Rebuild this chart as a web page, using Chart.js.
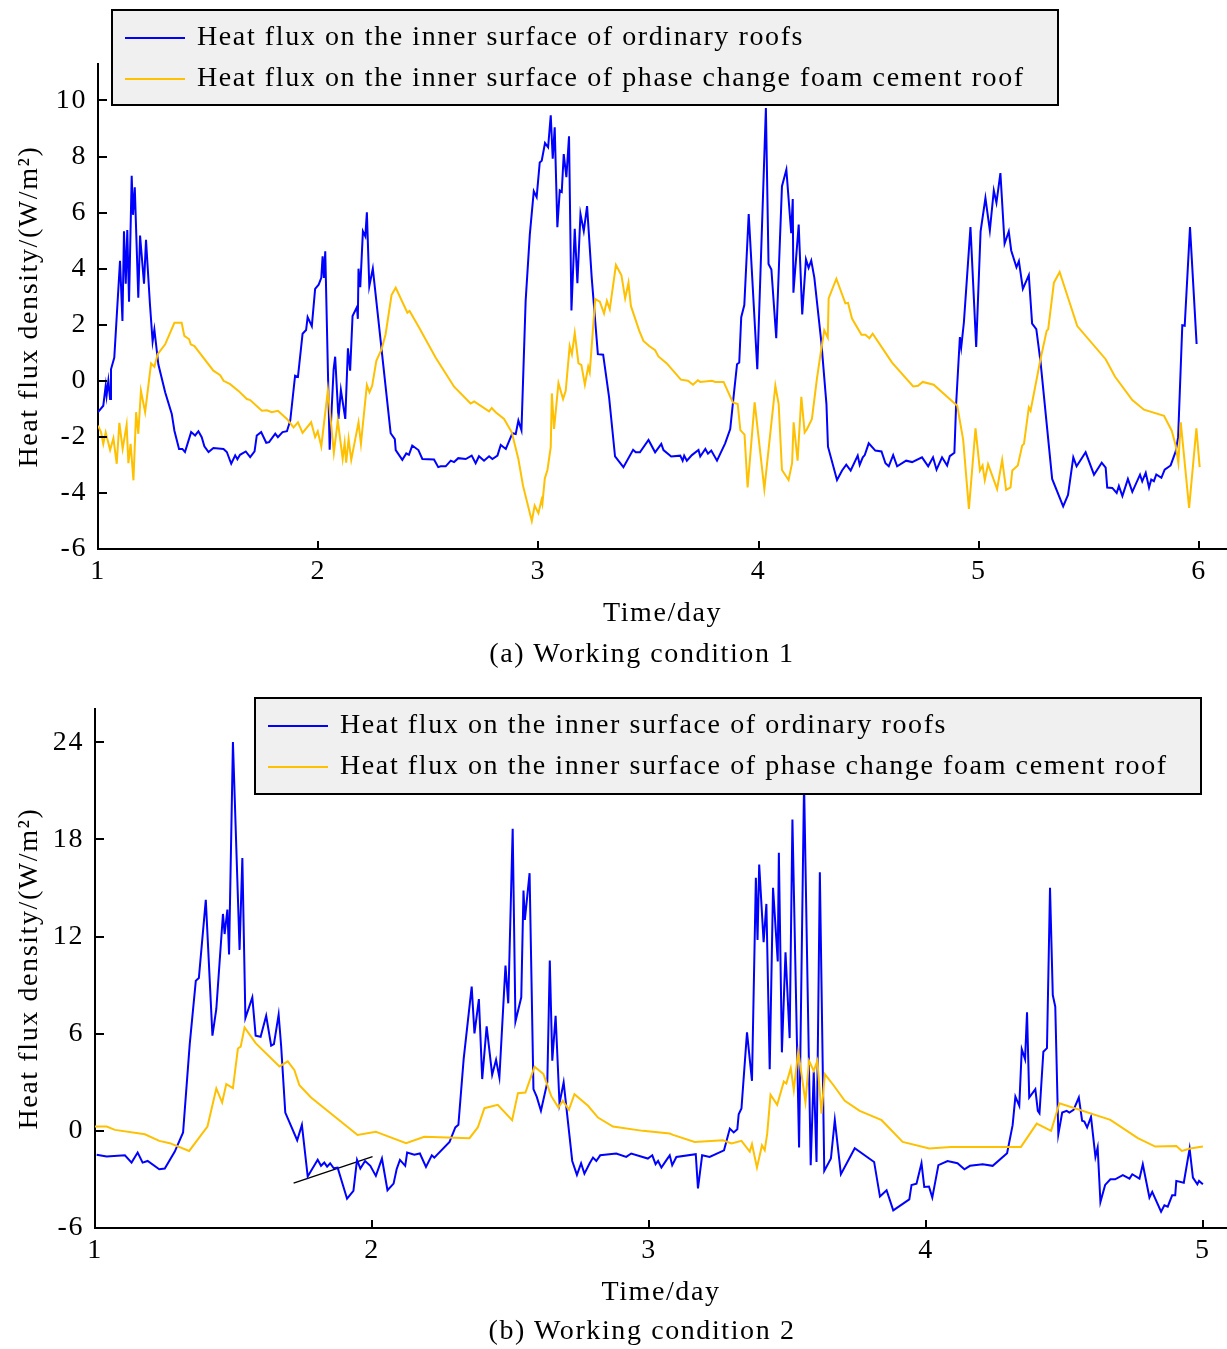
<!DOCTYPE html>
<html>
<head>
<meta charset="utf-8">
<script src="https://cdn.jsdelivr.net/npm/chart.js@4.4.1/dist/chart.umd.min.js"></script>
<style>
  body { margin: 0; background: #fff; width: 1227px; height: 1349px; position: relative; overflow: hidden; font-family: 'Liberation Serif', 'Times New Roman', serif; }
  canvas { position: absolute; left: 0; }
  .cap { position: absolute; left: 0; width: 1284px; text-align: center; font-size: 28px; line-height: 32px; letter-spacing: 1.6px; color: #000; }
</style>
</head>
<body>
<canvas id="chartA" width="1227" height="640" style="top:0"></canvas>
<div class="cap" style="top:637px">(a) Working condition 1</div>
<canvas id="chartB" width="1227" height="640" style="top:680px"></canvas>
<div class="cap" style="top:1314px">(b) Working condition 2</div>
<script>
// --- shared text ---
const seriesNames = ['Heat flux on the inner surface of ordinary roofs',
                     'Heat flux on the inner surface of phase change foam cement roof'];
const xTitle = 'Time/day';
const yTitle = 'Heat flux density/(W/m\u00B2)';

// --- (a) working condition 1 ---
const aXTicks = [1, 2, 3, 4, 5, 6];
const aYTicks = [-6, -4, -2, 0, 2, 4, 6, 8, 10];
const aOrdDay = [1.000,1.024,1.035,1.039,1.047,1.055,1.059,1.074,1.100,1.111,1.118,1.126,1.133,1.141,1.153,1.159,1.167,1.183,1.191,1.209,1.218,1.236,1.248,1.256,1.274,1.305,1.335,1.347,1.368,1.383,1.395,1.423,1.441,1.456,1.471,1.483,1.502,1.524,1.570,1.585,1.605,1.623,1.633,1.645,1.671,1.691,1.711,1.721,1.741,1.764,1.777,1.805,1.817,1.838,1.858,1.873,1.895,1.908,1.929,1.945,1.952,1.971,1.986,2.002,2.014,2.020,2.026,2.032,2.052,2.070,2.077,2.092,2.103,2.123,2.135,2.145,2.156,2.176,2.180,2.183,2.191,2.203,2.214,2.221,2.232,2.248,
  2.329,2.348,2.352,2.382,2.400,2.412,2.427,2.455,2.473,2.526,2.545,2.556,2.579,2.602,2.617,2.636,2.670,2.697,2.715,2.730,2.753,2.776,2.791,2.814,2.829,2.852,2.882,2.897,2.909,2.923,2.942,2.961,2.979,2.992,3.006,3.015,3.030,3.044,3.056,3.065,3.074,3.086,3.097,3.106,3.115,3.127,3.139,3.150,3.165,3.177,3.191,3.206,3.221,3.242,3.270,3.294,3.321,3.348,3.386,3.430,3.442,3.461,3.500,
  3.530,3.558,3.568,3.603,3.644,3.655,3.662,3.674,3.697,3.727,3.735,3.758,3.770,3.785,3.811,3.848,3.871,3.886,3.902,3.912,3.921,3.935,3.955,3.994,4.033,4.045,4.058,4.080,4.106,4.126,4.148,4.155,4.158,4.182,4.198,4.215,4.227,4.239,4.253,4.285,4.308,4.315,4.356,4.379,4.398,4.418,4.450,4.459,4.473,4.482,4.500,4.530,4.558,4.576,4.591,4.611,4.629,4.670,4.697,4.742,4.770,
  4.792,4.808,4.833,4.856,4.868,4.889,4.897,4.914,4.920,4.932,4.942,4.962,4.988,5.008,5.030,5.050,5.068,5.080,5.098,5.117,5.136,5.147,5.171,5.182,5.200,5.227,5.242,5.261,5.280,5.333,5.383,5.405,5.429,5.444,5.485,5.523,5.558,5.576,5.583,5.606,5.626,5.636,5.652,5.677,5.697,5.732,5.742,5.758,5.773,5.783,5.795,5.806,5.829,5.844,5.871,5.894,5.905,5.924,5.935,5.959,5.989];
const aOrdVal = [-1.12,-0.89,-0.18,-0.53,0.00,-0.65,0.41,0.83,4.28,2.13,5.33,3.46,5.38,2.82,7.31,5.92,6.90,2.96,5.18,3.46,5.03,2.72,1.40,1.83,0.59,-0.41,-1.18,-1.78,-2.43,-2.43,-2.54,-1.83,-1.95,-1.80,-2.01,-2.34,-2.54,-2.40,-2.43,-2.54,-2.96,-2.66,-2.80,-2.64,-2.52,-2.72,-2.52,-1.95,-1.83,-2.21,-2.19,-1.89,-2.01,-1.83,-1.80,-1.42,0.18,0.14,1.68,1.81,2.27,1.95,3.28,3.43,3.67,4.44,3.67,4.62,-2.46,0.41,0.86,-1.36,-0.33,-1.36,1.16,0.36,2.31,2.63,2.21,4.00,3.34,5.33,5.15,6.01,3.37,4.00,
  -1.87,-2.08,-2.47,-2.82,-2.59,-2.64,-2.31,-2.47,-2.79,-2.81,-3.08,-3.05,-3.05,-2.85,-2.90,-2.76,-2.79,-2.67,-2.94,-2.69,-2.85,-2.69,-2.79,-2.67,-2.29,-2.43,-1.87,-1.90,-1.42,-1.76,2.85,5.22,6.76,6.55,7.79,7.85,8.48,8.33,9.47,7.92,9.04,5.48,6.79,6.74,8.09,7.26,8.72,2.51,5.42,3.48,5.95,5.34,6.23,3.68,0.95,0.93,-0.59,-2.70,-3.08,-2.46,-2.55,-2.55,-2.11,
  -2.55,-2.25,-2.47,-2.70,-2.67,-2.85,-2.67,-2.85,-2.65,-2.47,-2.70,-2.43,-2.60,-2.49,-2.85,-2.23,-1.72,-0.59,0.59,0.65,2.27,2.70,5.95,0.41,9.73,4.17,3.97,1.52,6.94,7.53,5.27,6.48,3.14,5.57,2.37,4.33,4.03,4.29,3.68,1.36,-0.83,-2.35,-3.54,-3.20,-2.99,-3.20,-2.67,-3.00,-2.73,-2.65,-2.23,-2.49,-2.52,-2.94,-3.05,-2.65,-3.05,-2.85,-2.90,-2.73,-3.05,
  -2.73,-3.17,-2.73,-3.02,-2.69,-2.57,-0.83,1.56,1.19,2.07,3.20,5.48,1.21,5.33,6.52,5.36,6.79,6.35,7.41,4.89,5.33,4.65,4.05,4.27,3.28,3.77,2.04,1.84,0.69,-3.50,-4.48,-4.07,-2.73,-3.05,-2.55,-3.35,-2.92,-3.10,-3.81,-3.82,-4.00,-3.75,-4.11,-3.50,-3.96,-3.35,-3.59,-3.28,-3.81,-3.52,-3.58,-3.34,-3.46,-3.17,-3.02,-2.52,-2.01,1.98,1.96,5.48,1.31];
const aPcmDay = [1.000,1.014,1.024,1.035,1.055,1.070,1.085,1.097,1.112,1.130,1.138,1.148,1.161,1.173,1.183,1.195,1.214,1.241,1.256,1.271,1.305,1.347,1.380,1.392,1.414,1.421,1.438,1.524,1.555,1.570,1.600,1.638,1.676,1.691,1.744,1.767,1.789,1.817,1.858,1.888,1.908,1.929,1.968,1.986,1.998,2.014,2.044,2.071,2.089,2.111,2.120,2.127,2.138,2.150,2.183,2.194,2.221,2.233,
  2.245,2.264,2.288,2.306,2.333,2.352,2.405,2.415,2.458,2.533,2.617,2.692,2.708,2.776,2.788,2.806,2.844,2.879,2.909,2.930,2.970,2.983,3.000,3.014,3.018,3.029,3.041,3.056,3.061,3.071,3.091,3.112,3.124,3.142,3.152,3.165,3.182,3.195,3.211,3.226,3.233,3.258,3.279,3.298,3.311,3.324,3.352,3.377,3.394,3.409,3.420,3.458,3.477,3.503,
  3.530,3.545,3.583,3.647,3.679,3.702,3.724,3.735,3.788,3.803,3.841,3.883,3.905,3.917,3.936,3.950,3.982,4.026,4.076,4.091,4.106,4.136,4.152,4.159,4.177,4.194,4.209,4.220,4.242,4.265,4.280,4.298,4.314,4.318,4.353,4.394,4.406,4.424,4.467,4.485,4.503,4.518,4.606,4.702,4.724,4.745,
  4.795,4.902,4.929,4.955,4.985,5.005,5.017,5.027,5.042,5.083,5.106,5.124,5.144,5.152,5.177,5.197,5.205,5.227,5.235,5.280,5.308,5.315,5.341,5.367,5.447,5.576,5.618,5.697,5.750,5.841,5.876,5.894,5.906,5.917,5.955,5.988,6.003];
const aPcmVal = [-1.60,-1.84,-2.25,-1.84,-2.47,-2.05,-2.96,-1.50,-2.43,-1.57,-2.94,-2.25,-3.55,-1.12,-1.89,-0.36,-1.12,0.62,0.50,0.95,1.30,2.07,2.07,1.60,1.48,1.30,1.24,0.36,0.20,0.00,-0.12,-0.36,-0.65,-0.69,-1.07,-1.05,-1.12,-1.07,-1.36,-1.66,-1.48,-1.86,-1.48,-2.01,-1.80,-2.34,-0.33,-2.57,-1.42,-2.78,-2.22,-2.92,-2.07,-2.82,-1.48,-2.25,-0.15,-0.41,
  -0.18,0.71,1.13,1.66,3.06,3.32,2.43,2.49,1.90,0.83,-0.21,-0.81,-0.74,-1.09,-0.97,-1.12,-1.36,-1.84,-2.79,-3.74,-5.00,-4.45,-4.72,-4.25,-4.39,-3.48,-3.18,-2.37,-0.45,-1.72,-0.08,-0.65,-0.36,1.24,0.95,1.70,0.62,0.57,-0.14,0.50,0.30,2.91,2.82,2.40,2.85,2.55,4.13,3.76,2.94,3.50,2.67,1.78,1.42,1.24,
  1.09,0.87,0.62,0.04,0.00,-0.14,0.02,-0.04,0.00,-0.04,-0.04,-0.77,-0.83,-1.76,-1.92,-3.80,-0.77,-3.86,-0.18,-0.83,-3.18,-3.54,-2.94,-1.48,-2.85,-0.57,-1.84,-1.72,-1.36,0.09,0.89,1.80,1.54,2.94,3.64,2.76,2.78,2.22,1.64,1.64,1.52,1.68,0.65,-0.20,-0.18,-0.04,
  -0.14,-0.89,-2.11,-4.57,-1.70,-3.20,-3.02,-3.54,-2.97,-3.86,-2.82,-3.89,-3.80,-3.20,-3.02,-2.31,-2.25,-0.95,-1.07,0.77,1.78,1.84,3.50,3.88,1.95,0.77,0.15,-0.69,-1.03,-1.25,-1.78,-2.31,-2.92,-1.48,-4.53,-1.70,-3.08];

// --- (b) working condition 2 ---
const bXTicks = [1, 2, 3, 4, 5];
const bYTicks = [-6, 0, 6, 12, 18, 24];
const bOrdDay = [1.006,1.042,1.108,1.132,1.154,1.172,1.190,1.232,1.252,1.288,1.318,1.342,1.364,1.375,1.400,1.424,1.438,1.462,1.468,1.478,1.484,1.498,1.522,1.532,1.543,1.568,1.580,1.598,1.618,1.636,1.646,1.663,1.672,1.687,1.730,1.747,1.768,1.804,1.816,1.828,1.838,1.849,1.862,1.876,1.910,1.933,1.946,1.958,1.975,1.994,2.014,2.036,2.056,
  2.078,2.089,2.101,2.120,2.127,2.153,2.173,2.195,2.216,2.225,2.280,2.301,2.312,2.331,2.360,2.370,2.386,2.398,2.414,2.434,2.448,2.460,2.482,2.492,2.508,2.518,2.539,2.547,2.552,2.569,2.583,2.595,2.610,2.633,2.642,2.651,2.663,2.677,2.692,2.723,2.740,2.755,2.767,2.786,2.798,2.810,2.824,2.882,2.918,2.936,2.996,3.012,3.024,3.033,3.045,3.063,
  3.075,3.084,3.099,3.169,3.177,3.192,3.219,3.271,3.292,3.306,3.319,3.324,3.334,3.354,3.372,3.386,3.392,3.398,3.414,3.424,3.436,3.448,3.465,3.469,3.480,3.493,3.508,3.518,3.542,3.560,3.584,3.595,3.605,3.617,3.633,3.657,3.671,3.693,3.743,3.813,3.834,3.858,3.882,3.940,3.948,3.966,3.984,3.994,4.011,4.023,4.045,
  4.078,4.114,4.139,4.159,4.205,4.241,4.293,4.313,4.323,4.337,4.346,4.358,4.365,4.373,4.395,4.404,4.410,4.424,4.437,4.448,4.458,4.467,4.478,4.492,4.508,4.518,4.533,4.552,4.564,4.572,4.582,4.596,4.612,4.620,4.630,4.647,4.666,4.683,4.711,4.735,4.745,4.771,4.783,4.807,4.817,4.849,4.861,4.873,4.889,4.900,4.904,4.931,4.952,4.964,4.980,4.986,5.000];
const bOrdVal = [-1.48,-1.59,-1.51,-1.96,-1.34,-1.96,-1.86,-2.37,-2.33,-1.28,-0.10,5.36,9.28,9.44,14.27,5.88,7.53,13.40,12.16,13.67,10.89,24.02,11.18,16.85,6.97,8.25,5.88,5.81,7.11,5.26,5.36,7.18,5.26,1.13,-0.58,0.37,-2.82,-1.79,-2.16,-1.96,-2.21,-2.00,-2.31,-2.27,-4.19,-3.71,-1.79,-2.33,-1.86,-2.16,-2.78,-1.71,-3.67,
  -3.26,-2.37,-1.79,-2.16,-1.34,-1.48,-1.40,-2.23,-1.51,-1.65,-0.68,0.21,0.37,4.43,8.91,6.02,8.14,3.20,6.45,3.46,4.39,3.30,10.21,7.88,18.66,6.76,8.25,14.85,13.03,15.92,2.58,2.10,1.24,2.99,10.52,4.33,7.11,1.69,2.99,-1.86,-2.72,-2.00,-2.64,-2.00,-1.65,-1.86,-1.51,-1.40,-1.61,-1.40,-1.71,-1.51,-2.06,-1.86,-2.27,-1.81,
  -1.51,-2.12,-1.61,-1.44,-3.55,-1.51,-1.61,-1.20,0.14,-0.10,0.10,1.03,1.38,6.08,3.09,15.63,11.79,16.45,11.65,14.02,3.81,15.01,10.47,17.18,4.85,11.03,5.73,19.24,-1.03,21.50,-2.12,3.67,-1.92,15.98,-2.47,-1.71,0.68,-2.68,-1.07,-1.92,-4.06,-3.67,-4.91,-4.23,-3.34,-3.26,-2.00,-3.46,-3.44,-4.12,-2.12,
  -1.86,-2.00,-2.37,-2.16,-2.06,-2.16,-1.38,0.35,2.12,1.55,5.05,4.43,7.32,2.06,2.58,1.24,1.09,4.89,5.11,15.01,8.39,7.67,-0.21,1.13,1.24,1.13,1.30,2.06,0.62,0.58,0.21,0.87,-1.61,-1.03,-4.39,-3.34,-2.99,-2.99,-2.74,-2.95,-2.68,-2.95,-2.06,-4.12,-3.77,-4.99,-4.60,-4.68,-3.98,-3.98,-3.09,-3.20,-1.09,-2.89,-3.30,-3.09,-3.30];
const bPcmDay = [1.000,1.042,1.072,1.180,1.232,1.270,1.340,1.406,1.438,1.459,1.474,1.498,1.516,1.526,1.540,1.580,1.666,1.696,1.720,1.738,1.780,1.948,2.014,
  2.027,2.123,2.189,2.352,2.382,2.406,2.454,2.506,2.527,2.554,2.587,2.619,2.647,2.673,2.689,2.711,2.731,2.780,2.816,2.870,2.978,3.075,
  3.087,3.165,3.267,3.298,3.334,3.364,3.372,3.390,3.408,3.418,3.427,3.439,3.463,3.487,3.496,3.512,3.523,3.539,3.565,3.578,3.595,3.608,3.623,3.635,3.665,3.707,3.761,3.840,3.916,4.012,
  4.090,4.343,4.400,4.452,4.482,4.666,4.765,4.828,4.904,4.924,4.954,5.000];
const bPcmVal = [0.27,0.27,0.06,-0.21,-0.62,-0.76,-1.24,0.27,2.62,1.75,2.89,2.64,5.09,5.20,6.39,5.42,3.98,4.29,3.75,2.82,2.06,-0.25,-0.06,
  -0.14,-0.76,-0.37,-0.45,0.21,1.40,1.61,0.66,2.33,2.37,3.96,3.51,2.16,1.44,1.86,1.30,2.27,1.55,0.82,0.27,0.00,-0.16,
  -0.25,-0.68,-0.58,-0.78,-0.62,-1.28,-0.82,-2.27,-0.89,-1.20,-0.16,2.23,1.61,3.05,2.93,3.88,2.52,4.91,1.79,4.33,3.71,4.33,1.07,3.51,2.85,1.86,1.24,0.66,-0.68,-1.09,
  -0.99,-0.99,0.45,0.00,1.71,0.68,-0.45,-0.97,-0.93,-1.24,-1.09,-0.97];
// the short black stroke drawn under the curves in (b)
const bMarkDay = [1.717, 2.002];
const bMarkVal = [-3.23, -1.59];

const toPoints = (xs, ys) => xs.map((x, i) => ({ x: x, y: ys[i] }));
const FONT = { family: "'Liberation Serif', 'Times New Roman', serif", size: 28 };
const SPACING = '1.6px';

// the original text is set a little loose
const looseText = {
  id: 'looseText',
  beforeDraw(chart) { chart.ctx.letterSpacing = SPACING; }
};

// ticks point into the plot area, as in the original
const inwardTicks = {
  id: 'inwardTicks',
  afterDatasetsDraw(chart) {
    const { ctx, chartArea, scales } = chart;
    ctx.save();
    ctx.strokeStyle = '#000';
    ctx.lineWidth = 2;
    scales.x.ticks.forEach(t => {
      const x = Math.round(scales.x.getPixelForValue(t.value));
      ctx.beginPath(); ctx.moveTo(x, chartArea.bottom); ctx.lineTo(x, chartArea.bottom - 8); ctx.stroke();
    });
    scales.y.ticks.forEach(t => {
      const y = Math.round(scales.y.getPixelForValue(t.value));
      ctx.beginPath(); ctx.moveTo(chartArea.left, y); ctx.lineTo(chartArea.left + 9, y); ctx.stroke();
    });
    ctx.restore();
  }
};

// boxed legend sitting on top of the plot
const boxLegend = {
  id: 'boxLegend',
  afterDraw(chart, args, opts) {
    const ctx = chart.ctx;
    ctx.save();
    ctx.fillStyle = '#f0f0f0';
    ctx.fillRect(opts.left, opts.top, opts.width, opts.height);
    ctx.strokeStyle = '#000';
    ctx.lineWidth = 2;
    ctx.strokeRect(opts.left, opts.top, opts.width, opts.height);
    ctx.font = FONT.size + 'px ' + FONT.family;
    ctx.letterSpacing = SPACING;
    ctx.textBaseline = 'middle';
    chart.data.datasets.filter(d => d.label).forEach((d, i) => {
      const y = opts.rows[i];
      ctx.strokeStyle = d.borderColor;
      ctx.lineWidth = 2;
      ctx.beginPath(); ctx.moveTo(opts.lineX, y); ctx.lineTo(opts.lineX + opts.lineLen, y); ctx.stroke();
      ctx.fillStyle = '#000';
      ctx.fillText(d.label, opts.textX, y);
    });
    ctx.restore();
  }
};

function makeChart(id, cfg) {
  return new Chart(document.getElementById(id), {
    type: 'line',
    data: { datasets: cfg.datasets },
    options: {
      responsive: false,
      animation: false,
      layout: { padding: { top: cfg.padTop, left: 0, right: 0, bottom: 0 } },
      elements: { point: { radius: 0 }, line: { borderWidth: 2, tension: 0 } },
      plugins: { legend: { display: false }, tooltip: { enabled: false }, boxLegend: cfg.legend },
      scales: {
        x: {
          type: 'linear', min: 1, max: cfg.xMax,
          afterBuildTicks: s => { s.ticks = cfg.xTicks.map(v => ({ value: v })); },
          afterFit: s => { s.height = cfg.xHeight; },
          grid: { display: false, drawTicks: false },
          border: { display: true, color: '#000', width: 2 },
          ticks: { color: '#000', font: FONT, padding: 6, maxRotation: 0 },
          title: { display: true, text: xTitle, color: '#000', font: FONT, padding: { top: 0, bottom: cfg.xTitlePad } }
        },
        y: {
          min: -6, max: cfg.yMax,
          afterBuildTicks: s => { s.ticks = cfg.yTicks.map(v => ({ value: v })); },
          afterFit: s => { s.width = cfg.yWidth; },
          grid: { display: false, drawTicks: false },
          border: { display: true, color: '#000', width: 2 },
          ticks: { color: '#000', font: FONT, padding: 11 },
          title: { display: true, text: yTitle, color: '#000', font: FONT, padding: { top: 13, bottom: 0 } }
        }
      }
    },
    plugins: [looseText, inwardTicks, boxLegend]
  });
}

makeChart('chartA', {
  datasets: [
    { label: seriesNames[0], data: toPoints(aOrdDay, aOrdVal), borderColor: '#0000ff', order: 1 },
    { label: seriesNames[1], data: toPoints(aPcmDay, aPcmVal), borderColor: '#ffc000', order: 0 }
  ],
  padTop: 64, xHeight: 91, yWidth: 98, xMax: 6.127, yMax: 11.3, xTitlePad: 10,
  xTicks: aXTicks, yTicks: aYTicks,
  legend: { left: 112, top: 10, width: 946, height: 95, lineX: 125, lineLen: 60, textX: 197, rows: [38, 79] }
});

makeChart('chartB', {
  datasets: [
    { label: seriesNames[0], data: toPoints(bOrdDay, bOrdVal), borderColor: '#0000ff', order: 1 },
    { label: seriesNames[1], data: toPoints(bPcmDay, bPcmVal), borderColor: '#ffc000', order: 0 },
    { label: '', data: toPoints(bMarkDay, bMarkVal), borderColor: '#000', borderWidth: 1.5, order: 2 }
  ],
  padTop: 29, xHeight: 92, yWidth: 95, xMax: 5.087, yMax: 26.06, xTitlePad: 11,
  xTicks: bXTicks, yTicks: bYTicks,
  legend: { left: 255, top: 18, width: 946, height: 96, lineX: 268, lineLen: 60, textX: 340, rows: [46, 87] }
});
</script>
</body>
</html>
